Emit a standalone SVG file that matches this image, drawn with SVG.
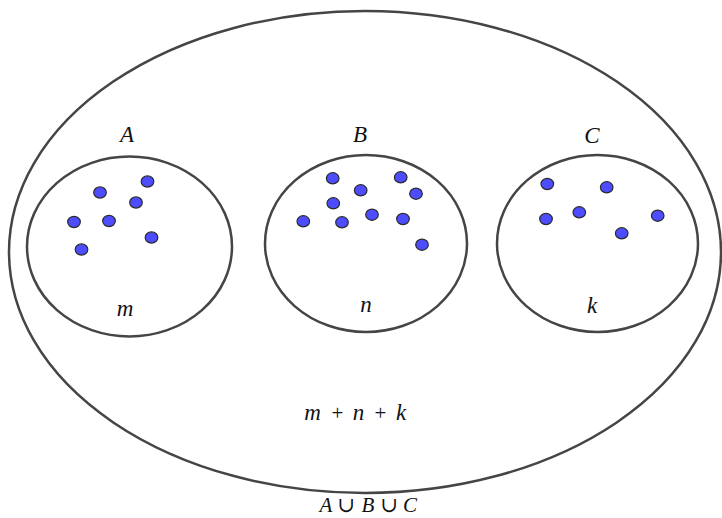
<svg xmlns="http://www.w3.org/2000/svg" width="722" height="518" viewBox="0 0 722 518">
<style>
.set{fill:none;stroke:#454545;stroke-width:2.5}
.dot{fill:#4d4dff;stroke:#2a2a2a;stroke-width:1.2}
.lbl{font-family:"Liberation Serif","DejaVu Serif",serif;font-style:italic;font-size:23px;fill:#111;text-anchor:middle}
.up{font-style:normal;font-size:21px}
.bot{font-size:21px}
</style>
<rect width="722" height="518" fill="#fff"/>
<g id="union">
<ellipse class="set" cx="365" cy="252" rx="356" ry="241"/>
<text class="lbl"><tspan x="312.5" y="420">m</tspan><tspan class="up" x="337.5" y="420">+</tspan><tspan x="358.5" y="420">n</tspan><tspan class="up" x="380.5" y="420">+</tspan><tspan x="401" y="420">k</tspan></text>
<text class="lbl bot"><tspan x="326" y="512">A</tspan><tspan class="up" x="346" y="512">∪</tspan><tspan x="368" y="512">B</tspan><tspan class="up" x="389" y="512">∪</tspan><tspan x="410" y="512">C</tspan></text>
</g>
<g id="setA">
<ellipse class="set" cx="129.5" cy="246.5" rx="102.5" ry="90"/>
<text class="lbl" x="127" y="142">A</text>
<text class="lbl" x="125" y="316">m</text>
<ellipse class="dot" cx="100" cy="192.5" rx="6.3" ry="5.6"/>
<ellipse class="dot" cx="147.5" cy="181.5" rx="6.3" ry="5.6"/>
<ellipse class="dot" cx="136" cy="202.5" rx="6.3" ry="5.6"/>
<ellipse class="dot" cx="74" cy="222" rx="6.3" ry="5.6"/>
<ellipse class="dot" cx="109" cy="221" rx="6.3" ry="5.6"/>
<ellipse class="dot" cx="151.5" cy="237.5" rx="6.3" ry="5.6"/>
<ellipse class="dot" cx="81.5" cy="249.5" rx="6.3" ry="5.6"/>
</g>
<g id="setB">
<ellipse class="set" cx="366" cy="243.5" rx="101" ry="88.5"/>
<text class="lbl" x="360" y="142">B</text>
<text class="lbl" x="366" y="312">n</text>
<ellipse class="dot" cx="332.7" cy="178.3" rx="6.3" ry="5.6"/>
<ellipse class="dot" cx="360.7" cy="190.3" rx="6.3" ry="5.6"/>
<ellipse class="dot" cx="400.7" cy="177.3" rx="6.3" ry="5.6"/>
<ellipse class="dot" cx="416" cy="193.7" rx="6.3" ry="5.6"/>
<ellipse class="dot" cx="333.3" cy="203.3" rx="6.3" ry="5.6"/>
<ellipse class="dot" cx="303.3" cy="221.3" rx="6.3" ry="5.6"/>
<ellipse class="dot" cx="342" cy="222.3" rx="6.3" ry="5.6"/>
<ellipse class="dot" cx="372" cy="214.7" rx="6.3" ry="5.6"/>
<ellipse class="dot" cx="403" cy="219" rx="6.3" ry="5.6"/>
<ellipse class="dot" cx="422" cy="244.7" rx="6.3" ry="5.6"/>
</g>
<g id="setC">
<ellipse class="set" cx="597.5" cy="243.5" rx="100.5" ry="88.5"/>
<text class="lbl" x="592" y="143">C</text>
<text class="lbl" x="592" y="313">k</text>
<ellipse class="dot" cx="547.3" cy="184" rx="6.3" ry="5.6"/>
<ellipse class="dot" cx="606.7" cy="187.3" rx="6.3" ry="5.6"/>
<ellipse class="dot" cx="546" cy="219" rx="6.3" ry="5.6"/>
<ellipse class="dot" cx="579.3" cy="212.3" rx="6.3" ry="5.6"/>
<ellipse class="dot" cx="657.7" cy="215.7" rx="6.3" ry="5.6"/>
<ellipse class="dot" cx="621.7" cy="233.3" rx="6.3" ry="5.6"/>
</g>
<g id="connectors"/>
</svg>
